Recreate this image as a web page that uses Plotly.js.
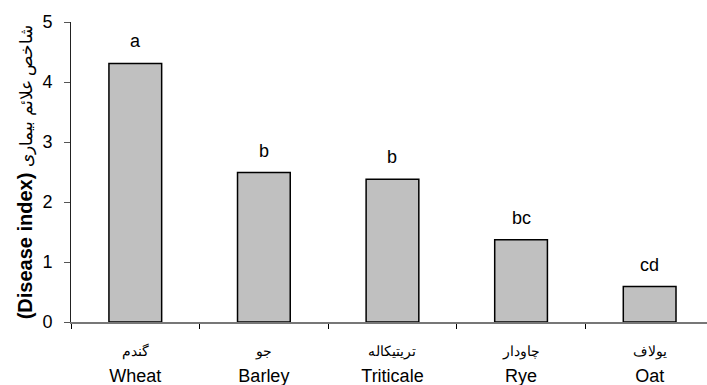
<!DOCTYPE html>
<html>
<head>
<meta charset="utf-8">
<script src="https://cdn.plot.ly/plotly-3.0.1.min.js"></script>
<style>html,body{margin:0;padding:0;background:#fff;}#chart{width:707px;height:385px;}</style>
</head>
<body>
<div id="chart"></div>
<script>
const categoriesEn = ["Wheat", "Barley", "Triticale", "Rye", "Oat"];
const categoriesFa = ["گندم", "جو", "تریتیکاله", "چاودار", "یولاف"];
const diseaseIndex = [4.31, 2.49, 2.38, 1.37, 0.59];
const groupLetters = ["a", "b", "b", "bc", "cd"];
const yTicks = [0, 1, 2, 3, 4, 5];

const tickText = categoriesEn.map((en, i) =>
  '<span style="font-size:14px">' + categoriesFa[i] + '</span><br><span style="font-size:18px">' + en + '</span>');

const trace = {
  type: 'bar',
  x: categoriesEn,
  y: diseaseIndex,
  marker: {color: '#c0c0c0', line: {color: '#000000', width: 1.5}},
  hoverinfo: 'none'
};

const annotations = categoriesEn.map((c, i) => ({
  x: c, y: diseaseIndex[i], xref: 'x', yref: 'y',
  text: groupLetters[i], showarrow: false,
  yanchor: 'bottom', yshift: 10,
  font: {family: 'Liberation Sans, Arial, sans-serif', size: 18, color: '#000'}
}));

const layout = {
  width: 707, height: 385,
  margin: {l: 71, r: 0, t: 22, b: 63},
  paper_bgcolor: '#fff', plot_bgcolor: '#fff',
  showlegend: false,
  bargap: 0.59,
  font: {family: 'Liberation Sans, Arial, sans-serif', color: '#000'},
  xaxis: {
    type: 'category',
    range: [-0.5, 4.446],
    tickmode: 'array', tickvals: categoriesEn, ticktext: tickText,
    tickson: 'boundaries',
    ticks: 'outside', ticklen: 5, tickcolor: '#000', tickwidth: 1,
    ticklabelstandoff: 8,
    showline: true, linecolor: '#777', linewidth: 1.5,
    showgrid: false, zeroline: false,
    tickfont: {size: 20, color: '#000'},
    fixedrange: true
  },
  yaxis: {
    range: [0, 5],
    tickmode: 'array', tickvals: yTicks, ticktext: yTicks.map(String),
    ticks: 'outside', ticklen: 6, tickcolor: '#555', tickwidth: 1,
    ticklabelstandoff: 8,
    showline: true, linecolor: '#222', linewidth: 1,
    showgrid: false, zeroline: false,
    tickfont: {size: 18, color: '#000'},
    title: {text: '<b>(Disease index)</b> <span style="font-size:17px">شاخص علائم بیماری</span>',
            font: {size: 20, color: '#000'}, standoff: 4},
    fixedrange: true
  },
  annotations: annotations
};

Plotly.newPlot('chart', [trace], layout, {displayModeBar: false, staticPlot: true});
</script>
</body>
</html>
